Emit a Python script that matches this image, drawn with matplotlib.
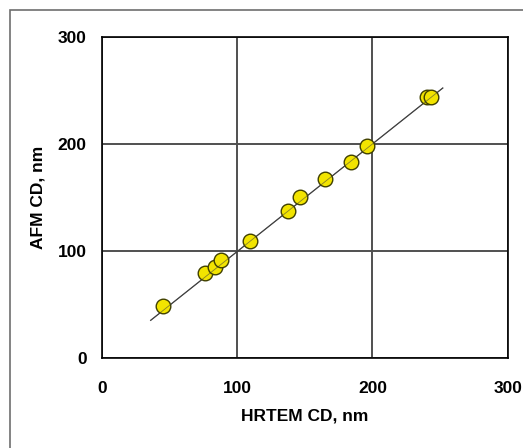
import matplotlib; matplotlib.use("Agg")
import matplotlib.pyplot as plt
from matplotlib.patches import Rectangle

# data
hrtem_cd = [45.4, 75.8, 83.2, 88.1, 109.1, 137.3, 146.2, 165.0, 184.2, 196.0, 240.5, 243.0]
afm_cd = [48.6, 79.7, 85.3, 91.6, 110.0, 137.7, 150.5, 168.0, 183.8, 198.0, 244.2, 244.2]
fit_x = [36, 252]
fit_y = [35.5, 252.6]
ticks = [0, 100, 200, 300]

plt.rcParams["font.family"] = ["Liberation Sans", "DejaVu Sans"]
plt.rcParams["font.weight"] = "bold"

W, H = 523, 448
fig = plt.figure(figsize=(W/100, H/100), dpi=100)
fig.patches.append(Rectangle((10/W, -0.1), 1.2, 1.1 - 10/H, transform=fig.transFigure,
                             fill=False, edgecolor="#6e6e6e", lw=1.2))

ax = fig.add_axes([102/W, 1-358.3/H, (507.7-102)/W, (358.3-37.3)/H])
ax.set_xlim(0, 300); ax.set_ylim(0, 300)
ax.set_xticks(ticks); ax.set_yticks(ticks)
ax.tick_params(length=0, labelsize=12.5)
ax.tick_params(axis="x", pad=16)
ax.tick_params(axis="y", pad=11)
for t in ax.get_xticklabels() + ax.get_yticklabels():
    t.set_fontweight("bold")
ax.grid(True, color="#505050", lw=1.4)
ax.set_axisbelow(True)
for s in ax.spines.values():
    s.set_color("black"); s.set_linewidth(1.2)

ax.plot(fit_x, fit_y, color="#404040", lw=0.9, zorder=3)
ax.plot(hrtem_cd, afm_cd, "o", ms=10.5, mfc="#f2e400", mec="#404000", mew=1.0, zorder=4)
ax.plot(fit_x, fit_y, color="#404040", lw=0.6, alpha=0.6, zorder=5)

ax.set_xlabel("HRTEM CD, nm", fontsize=12.5, fontweight="bold", labelpad=9)
ax.set_ylabel("AFM CD, nm", fontsize=12.5, fontweight="bold", labelpad=9)

fig.savefig("out.png", dpi=100)
